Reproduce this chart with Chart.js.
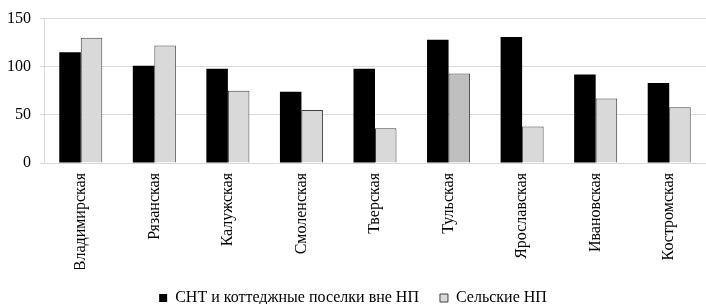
<!DOCTYPE html>
<html>
<head>
<meta charset="utf-8">
<script src="https://cdn.jsdelivr.net/npm/chart.js@4"></script>
<style>
  html, body { margin: 0; padding: 0; background: #fff; }
  #wrap { width: 706px; height: 304px; }
</style>
</head>
<body>
<div id="wrap"><canvas id="chart" width="706" height="304"></canvas></div>
<script>
const regions = ['Владимирская', 'Рязанская', 'Калужская', 'Смоленская', 'Тверская', 'Тульская', 'Ярославская', 'Ивановская', 'Костромская'];
const sntValues = [115, 101, 98, 74, 98, 128, 131, 92, 83];
const ruralValues = [130, 122, 75, 55, 36, 93, 38, 67, 58];
const seriesNames = ['СНТ и коттеджные поселки вне НП', 'Сельские НП'];
const yTicks = [0, 50, 100, 150];

const FONT = { family: '"Liberation Serif", "Times New Roman", serif', size: 16 };
const GRID = '#d9d9d9';
const HIGHLIGHT = 5; // Тульская drawn a shade darker

const ctx = document.getElementById('chart').getContext('2d');
new Chart(ctx, {
    type: 'bar',
    data: {
        labels: regions,
        datasets: [
            {
                label: seriesNames[0],
                data: sntValues,
                backgroundColor: '#000000',
                borderColor: '#000000',
                borderWidth: 0
            },
            {
                label: seriesNames[1],
                data: ruralValues,
                backgroundColor: c => c.dataIndex === HIGHLIGHT ? '#bfbfbf' : '#d9d9d9',
                borderColor: '#404040',
                borderWidth: 1
            }
        ]
    },
    options: {
        responsive: false,
        animation: false,
        categoryPercentage: 0.585,
        barPercentage: 1,
        layout: { padding: { top: 3, right: 0, left: 0, bottom: -12 } },
        plugins: {
            tooltip: { enabled: false },
            legend: {
                position: 'bottom',
                labels: {
                    font: FONT,
                    color: '#000',
                    boxWidth: 8,
                    boxHeight: 8,
                    padding: 21
                }
            }
        },
        scales: {
            x: {
                grid: { display: false, drawTicks: false },
                border: { display: true, color: GRID },
                ticks: {
                    font: FONT,
                    color: '#000',
                    minRotation: 90,
                    maxRotation: 90,
                    padding: 10,
                    autoSkip: false
                },
                afterFit: scale => { scale.height = 106; }
            },
            y: {
                min: 0,
                max: 150,
                afterBuildTicks: scale => { scale.ticks = yTicks.map(v => ({ value: v })); },
                grid: { color: GRID, tickLength: 4 },
                border: { display: true, color: GRID },
                ticks: { font: FONT, color: '#000', padding: 9 },
                afterFit: scale => { scale.width = 44; }
            }
        }
    }
});
</script>
</body>
</html>
